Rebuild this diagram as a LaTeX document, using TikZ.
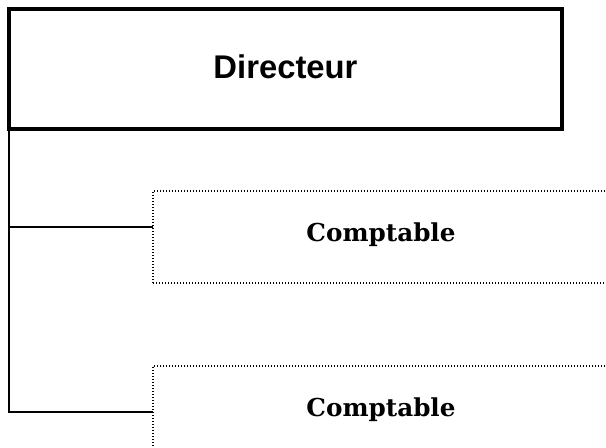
\documentclass[tikz,border=0pt]{standalone}
\usepackage{fontspec}
\newfontfamily\dirfont{Liberation Sans}
\newfontfamily\compfont{DejaVu Serif}
\tikzset{
  dirbox/.style={draw, rectangle, line width=2.3pt, inner sep=0pt, outer sep=0pt,
    minimum width=414.75pt, minimum height=90pt, text height=51.75pt, text depth=38.25pt,
    font=\dirfont\bfseries\fontsize{24.6pt}{29pt}\selectfont},
  compbox/.style={draw, rectangle, line width=0.9pt, dash pattern=on 0.9pt off 1.35pt,
    inner sep=0pt, outer sep=0pt,
    minimum width=342pt, minimum height=69pt, text height=37.5pt, text depth=31.5pt,
    font=\compfont\bfseries\fontsize{18.5pt}{22pt}\selectfont},
  link/.style={draw, line width=1pt}
}
\begin{document}
\begin{tikzpicture}[x=0.75pt,y=-0.75pt]
\useasboundingbox (0,0) rectangle (606,447);
\node[dirbox] (dir) at (285.5,69) {Directeur};
\node[compbox] (c1) at (381,237) {Comptable};
\node[compbox] (c2) at (381,412) {Comptable};
\coordinate (b1) at ([yshift=7.5pt]c1.west);
\draw[link] (dir.south west) -- (dir.south west |- c2.west) -- (c2.west);
\draw[link] (dir.south west |- b1) -- (b1);
\end{tikzpicture}
\end{document}
